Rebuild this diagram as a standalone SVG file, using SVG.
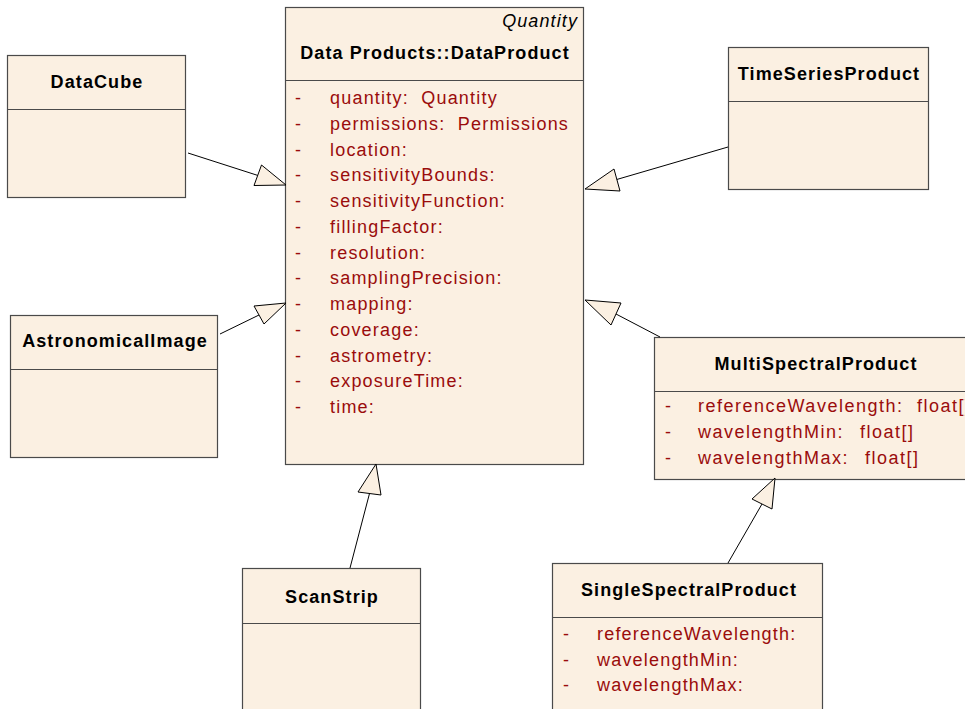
<svg xmlns="http://www.w3.org/2000/svg" width="965" height="709" viewBox="0 0 965 709">
<style>
.box{fill:#FBF0E2;stroke:#4A4A4A;stroke-width:1.2}
.sep{stroke:#4A4A4A;stroke-width:1.2}
.title{font-family:"Liberation Sans",Arial,sans-serif;font-size:18px;font-weight:bold;fill:#000;letter-spacing:1.1px}
.stereo{font-family:"Liberation Sans",Arial,sans-serif;font-size:18px;font-style:italic;fill:#000;letter-spacing:1.1px}
.attr{font-family:"Liberation Sans",Arial,sans-serif;font-size:18px;fill:#9A0C0C;letter-spacing:1.2px}
.wide{letter-spacing:1.5px}
.conn line{stroke:#000;stroke-width:1}
.conn polygon{fill:#FBF0E2;stroke:#000;stroke-width:1}
</style>
<rect width="965" height="709" fill="#fff"/>
<g id="DataProduct">
<rect class="box" x="285.5" y="7.5" width="298" height="457"/>
<line class="sep" x1="285.5" y1="80.5" x2="583.5" y2="80.5"/>
<text class="stereo" x="578" y="27" text-anchor="end">Quantity</text>
<text class="title" x="435" y="59" text-anchor="middle">Data Products::DataProduct</text>
<g class="attr">
<text x="295" y="104">-</text><text x="330" y="104" xml:space="preserve">quantity:  Quantity</text>
<text x="295" y="130">-</text><text x="330" y="130" xml:space="preserve">permissions:  Permissions</text>
<text x="295" y="156">-</text><text x="330" y="156">location:</text>
<text x="295" y="181">-</text><text x="330" y="181">sensitivityBounds:</text>
<text x="295" y="207">-</text><text x="330" y="207">sensitivityFunction:</text>
<text x="295" y="233">-</text><text x="330" y="233">fillingFactor:</text>
<text x="295" y="259">-</text><text x="330" y="259">resolution:</text>
<text x="295" y="284">-</text><text x="330" y="284">samplingPrecision:</text>
<text x="295" y="310">-</text><text x="330" y="310">mapping:</text>
<text x="295" y="336">-</text><text x="330" y="336">coverage:</text>
<text x="295" y="362">-</text><text x="330" y="362">astrometry:</text>
<text x="295" y="387">-</text><text x="330" y="387">exposureTime:</text>
<text x="295" y="413">-</text><text x="330" y="413">time:</text>
</g>
</g>
<g id="DataCube">
<rect class="box" x="7.5" y="55.5" width="178" height="142"/>
<line class="sep" x1="7.5" y1="109.5" x2="185.5" y2="109.5"/>
<text class="title" x="97" y="88" text-anchor="middle">DataCube</text>
</g>
<g id="TimeSeriesProduct">
<rect class="box" x="728.5" y="47.5" width="200" height="142"/>
<line class="sep" x1="728.5" y1="101.5" x2="928.5" y2="101.5"/>
<text class="title" x="829" y="80" text-anchor="middle">TimeSeriesProduct</text>
</g>
<g id="AstronomicalImage">
<rect class="box" x="10.5" y="315.5" width="207" height="142"/>
<line class="sep" x1="10.5" y1="369.5" x2="217.5" y2="369.5"/>
<text class="title" x="115" y="347" text-anchor="middle">AstronomicalImage</text>
</g>
<g id="MultiSpectralProduct">
<rect class="box" x="654.5" y="337.5" width="320" height="142"/>
<line class="sep" x1="654.5" y1="391.5" x2="974.5" y2="391.5"/>
<text class="title" x="816" y="370" text-anchor="middle">MultiSpectralProduct</text>
<g class="attr">
<text x="665" y="412">-</text><text class="wide" x="698" y="412">referenceWavelength:<tspan x="917">float[]</tspan></text>
<text x="665" y="438">-</text><text class="wide" x="698" y="438">wavelengthMin:<tspan x="860">float[]</tspan></text>
<text x="665" y="464">-</text><text class="wide" x="698" y="464">wavelengthMax:<tspan x="865">float[]</tspan></text>
</g>
</g>
<g id="ScanStrip">
<rect class="box" x="242.5" y="568.5" width="178" height="150"/>
<line class="sep" x1="242.5" y1="623.5" x2="420.5" y2="623.5"/>
<text class="title" x="332" y="603" text-anchor="middle">ScanStrip</text>
</g>
<g id="SingleSpectralProduct">
<rect class="box" x="552.5" y="563.5" width="270" height="155"/>
<line class="sep" x1="552.5" y1="617.5" x2="822.5" y2="617.5"/>
<text class="title" x="689" y="596" text-anchor="middle">SingleSpectralProduct</text>
<g class="attr">
<text x="563" y="640">-</text><text x="597" y="640">referenceWavelength:</text>
<text x="563" y="666">-</text><text x="597" y="666">wavelengthMin:</text>
<text x="563" y="691">-</text><text x="597" y="691">wavelengthMax:</text>
</g>
</g>
<g id="connectors" class="conn">
<line x1="188" y1="153" x2="258" y2="175.5"/>
<polygon points="286,185 254,185.5 261.5,165"/>
<line x1="728" y1="147" x2="615" y2="180"/>
<polygon points="585,189 614,169 620,191"/>
<line x1="220" y1="334" x2="259" y2="315"/>
<polygon points="286,303 254,306 264,324"/>
<line x1="660" y1="337" x2="616" y2="314"/>
<polygon points="585,300 621,303 611,325"/>
<line x1="350" y1="568" x2="369.5" y2="493.5"/>
<polygon points="376,464 358,492 381,495"/>
<line x1="728" y1="563" x2="762" y2="504"/>
<polygon points="775,478 752,499 772,509"/>
</g>
</svg>
